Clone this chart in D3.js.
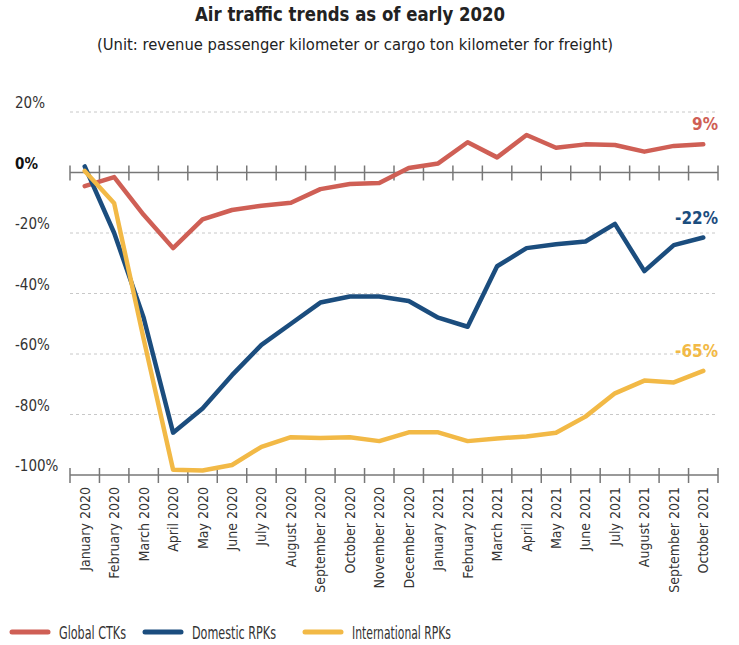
<!DOCTYPE html>
<html>
<head>
<meta charset="utf-8">
<script src="https://cdn.jsdelivr.net/npm/d3@7"></script>
<style>
  body { margin: 0; background: #fff; }
  svg text { font-family: "DejaVu Sans Condensed", "Liberation Sans", sans-serif; }
</style>
</head>
<body>
<script>
let months = [
  'January 2020', 'February 2020', 'March 2020', 'April 2020', 'May 2020', 'June 2020',
  'July 2020', 'August 2020', 'September 2020', 'October 2020', 'November 2020', 'December 2020',
  'January 2021', 'February 2021', 'March 2021', 'April 2021', 'May 2021', 'June 2021',
  'July 2021', 'August 2021', 'September 2021', 'October 2021'
]

let globalCTKs = [-4.5, -1.5, -14, -25, -15.5, -12.4, -11, -10, -5.5, -3.8, -3.5, 1.5,
  3, 10, 5, 12.4, 8.2, 9.3, 9.1, 6.9, 8.8, 9.3]
let domesticRPKs = [2, -20, -48, -86, -78, -67, -57, -50, -43, -41, -41, -42.5,
  -48, -51, -31, -25, -23.7, -22.8, -17, -32.6, -24, -21.5]
let internationalRPKs = [0.5, -10.2, -55, -98.3, -98.5, -96.7, -90.7, -87.5, -87.8, -87.5, -88.8, -85.9,
  -85.9, -88.8, -87.9, -87.3, -86, -80.7, -73, -68.8, -69.4, -65.6]

let yTicks = [20, 0, -20, -40, -60, -80, -100]
let gridTicks = [20, -20, -40, -60, -80]

let series = [
  { name: 'Global CTKs', values: globalCTKs, color: '#cf5f55', label: '9%' },
  { name: 'Domestic RPKs', values: domesticRPKs, color: '#1b4d7e', label: '-22%' },
  { name: 'International RPKs', values: internationalRPKs, color: '#f2b946', label: '-65%' }
]

let width = 739, height = 645
let left = 70, right = 718

let svg = d3.select('body').append('svg')
  .attr('width', width)
  .attr('height', height)

let x = d3.scaleBand().domain(months).range([left, right])
let y = d3.scaleLinear().domain([-100, 20]).range([475, 112])

// title (font is wider than the original's condensed face, so squeeze to its width)
svg.append('text')
  .attr('x', 195).attr('y', 21)
  .attr('font-size', 19).attr('font-weight', 'bold')
  .attr('fill', '#222')
  .attr('textLength', 310).attr('lengthAdjust', 'spacingAndGlyphs')
  .text('Air traffic trends as of early 2020')

svg.append('text')
  .attr('x', 97).attr('y', 50)
  .attr('font-size', 16.5)
  .attr('fill', '#222')
  .attr('textLength', 516).attr('lengthAdjust', 'spacingAndGlyphs')
  .text('(Unit: revenue passenger kilometer or cargo ton kilometer for freight)')

// gridlines
svg.append('g')
  .selectAll('line').data(gridTicks).enter()
  .append('line')
  .attr('x1', left).attr('x2', right)
  .attr('y1', d => y(d)).attr('y2', d => y(d))
  .attr('stroke', '#c8c8c8')
  .attr('stroke-dasharray', '3,3')

// y labels
svg.append('g')
  .selectAll('text').data(yTicks).enter()
  .append('text')
  .attr('x', 15)
  .attr('y', d => y(d) - 4)
  .attr('font-size', 15)
  .attr('font-weight', d => d === 0 ? 'bold' : 'normal')
  .attr('fill', d => d === 0 ? '#111' : '#333')
  .text(d => d + '%')

// axes at 0% and -100%
let bounds = months.map(d => x(d)).concat([right])
let drawAxis = (v) => {
  let g = svg.append('g').attr('stroke', '#777').attr('stroke-width', 1.5)
  g.append('line')
    .attr('x1', left).attr('x2', right)
    .attr('y1', y(v)).attr('y2', y(v))
  g.selectAll('.tick').data(bounds).enter()
    .append('line')
    .attr('x1', d => d).attr('x2', d => d)
    .attr('y1', y(v) - 7).attr('y2', y(v) + 8)
}
drawAxis(0)
drawAxis(-100)

// month labels
svg.append('g')
  .selectAll('text').data(months).enter()
  .append('text')
  .attr('transform', d => `translate(${x(d) + x.bandwidth() / 2 + 5},487) rotate(-90)`)
  .attr('text-anchor', 'end')
  .attr('font-size', 14)
  .attr('fill', '#333')
  .text(d => d)

// lines
let line = d3.line()
  .x((d, i) => x(months[i]) + x.bandwidth() / 2)
  .y(d => y(d))

svg.append('g')
  .selectAll('path').data(series).enter()
  .append('path')
  .attr('d', d => line(d.values))
  .attr('fill', 'none')
  .attr('stroke', d => d.color)
  .attr('stroke-width', 4.5)
  .attr('stroke-linejoin', 'round')
  .attr('stroke-linecap', 'round')

// end labels
svg.append('g')
  .selectAll('text').data(series).enter()
  .append('text')
  .attr('x', right)
  .attr('y', d => y(d.values[d.values.length - 1]) - 14)
  .attr('text-anchor', 'end')
  .attr('font-size', 17)
  .attr('font-weight', 'bold')
  .attr('fill', d => d.color)
  .text(d => d.label)

// legend
let legendX = [12, 145, 305]
let legendW = [67, 84, 99]
let legend = svg.append('g')
  .selectAll('g').data(series).enter()
  .append('g')
  .attr('transform', (d, i) => `translate(${legendX[i]},632)`)
legend.append('line')
  .attr('x1', 0).attr('x2', 36)
  .attr('stroke', d => d.color)
  .attr('stroke-width', 5)
  .attr('stroke-linecap', 'round')
legend.append('text')
  .attr('x', 47).attr('y', 7)
  .attr('font-size', 18.5)
  .attr('fill', '#333')
  .attr('textLength', (d, i) => legendW[i]).attr('lengthAdjust', 'spacingAndGlyphs')
  .text(d => d.name)
</script>
</body>
</html>
